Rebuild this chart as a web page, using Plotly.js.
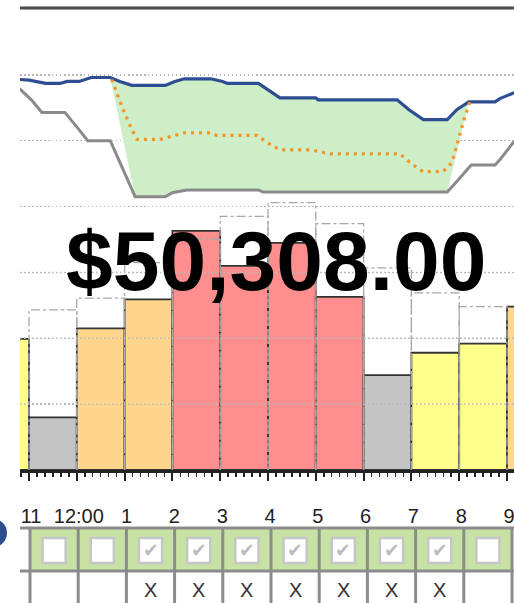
<!DOCTYPE html>
<html>
<head>
<meta charset="utf-8">
<script src="https://cdn.plot.ly/plotly-3.0.1.min.js"></script>
<style>html,body{margin:0;padding:0;background:#fff;}#chart{width:514px;height:603px;}</style>
</head>
<body>
<div id="chart"></div>
<script>
// ---------- DATA ----------
// hourly usage bars (start hour of each bar)
const barHours = [10, 11, 12, 13, 14, 15, 16, 17, 18, 19, 20, 21];
const usage    = [1.99, 0.80, 2.15, 2.59, 3.63, 3.10, 3.45, 2.63, 1.44, 1.78, 1.92, 2.48];
const tiers    = ['mid', 'off', 'shoulder', 'shoulder', 'peak', 'peak', 'peak', 'peak', 'off', 'mid', 'mid', 'shoulder'];
const baseline = [null, 2.43, 2.61, 3.15, 3.50, 3.85, 4.06, 3.74, 3.07, 2.69, 2.48, null];

// upper line series (time in hours)
const blueT = [10.8, 11.0, 11.35, 11.65, 11.8, 12.05, 12.3, 12.7, 12.9, 13.15, 13.85, 14.05, 14.25, 14.8, 15.05, 15.15, 15.8, 16.0, 16.25, 17.0, 17.05, 18.7, 18.95, 19.25, 19.75, 19.95, 20.2, 20.75, 20.85, 21.15];
const blueV = [5.93, 5.92, 5.87, 5.87, 5.90, 5.90, 5.96, 5.96, 5.90, 5.84, 5.84, 5.90, 5.94, 5.94, 5.90, 5.87, 5.87, 5.77, 5.65, 5.65, 5.62, 5.62, 5.47, 5.32, 5.32, 5.47, 5.59, 5.59, 5.64, 5.73];
const grayT = [10.8, 11.05, 11.27, 11.75, 12.0, 12.23, 12.7, 12.95, 13.22, 13.85, 14.0, 14.3, 15.8, 15.9, 19.75, 19.95, 20.25, 20.75, 20.85, 21.15];
const grayV = [5.79, 5.62, 5.43, 5.43, 5.21, 5.0, 5.0, 4.6, 4.15, 4.15, 4.21, 4.25, 4.25, 4.22, 4.22, 4.38, 4.63, 4.63, 4.71, 4.99];
const orangeT = [12.73, 12.97, 13.15, 13.26, 13.74, 13.95, 14.25, 14.8, 14.93, 15.77, 15.98, 16.25, 16.9, 17.1, 17.3, 18.76, 18.97, 19.24, 19.66, 19.85, 19.98, 20.12, 20.23];
const orangeV = [5.93, 5.47, 5.17, 5.02, 5.02, 5.06, 5.12, 5.12, 5.08, 5.08, 4.97, 4.86, 4.86, 4.83, 4.80, 4.80, 4.67, 4.53, 4.53, 4.67, 5.02, 5.37, 5.60];
const fillWindowTop = [12.7, 20.2];
const fillWindowBottom = [13.22, 19.75];

// x-axis labels
const tickHours  = [11, 12, 13, 14, 15, 16, 17, 18, 19, 20, 21];
const tickLabels = ['11', '12:00', '1', '2', '3', '4', '5', '6', '7', '8', '9'];

// schedule table below the chart
const tableHours = [11, 12, 13, 14, 15, 16, 17, 18, 19, 20];
const checked    = [false, false, true, true, true, true, true, true, true, false];
const marked     = [false, false, true, true, true, true, true, true, true, false];

const totalText = '$50,308.00';

// ---------- STYLE ----------
const tierColors = {off: '#c4c4c4', mid: '#ffff8c', shoulder: '#ffd68c', peak: '#ff8f8f'};
const W = 514, H = 603, ML = 20, MR = 0, MT = 9, MB = 133;
const plotW = W - ML - MR, plotH = H - MT - MB;
const px2paperX = p => (p - ML) / plotW;
const py2paperY = p => (H - MB - p) / plotH;
const gridStyle = {color: '#b8b8b8', width: 1.5, dash: '1.5px,2.5px'};

// ---------- TRACES ----------
const barTrace = {
  type: 'bar', x: barHours.map(h => h + 0.5), y: usage, width: 1,
  marker: {color: tiers.map(t => tierColors[t]), line: {color: '#333333', width: 1.8}},
  hoverinfo: 'skip', showlegend: false
};

const ox = [], oy = [];
baseline.forEach((v, i) => {
  if (v === null) return;
  const x0 = barHours[i], x1 = barHours[i] + 1;
  ox.push(x0, x0, x1, x1, null); oy.push(0, v, v, 0, null);
});
const outlineTrace = {
  type: 'scatter', mode: 'lines', x: ox, y: oy, connectgaps: false,
  line: {color: '#a8a8a8', width: 1.3, dash: 'dashdot'}, hoverinfo: 'skip', showlegend: false
};

const topIdx = blueT.map((t, i) => i).filter(i => blueT[i] >= fillWindowTop[0] && blueT[i] <= fillWindowTop[1]);
const botIdx = grayT.map((t, i) => i).filter(i => grayT[i] >= fillWindowBottom[0] && grayT[i] <= fillWindowBottom[1]).reverse();
const fillTrace = {
  type: 'scatter', mode: 'lines',
  x: topIdx.map(i => blueT[i]).concat(botIdx.map(i => grayT[i])),
  y: topIdx.map(i => blueV[i]).concat(botIdx.map(i => grayV[i])),
  fill: 'toself', fillcolor: 'rgb(206,238,199)', line: {width: 0}, hoverinfo: 'skip', showlegend: false
};
const grayTrace = {type: 'scatter', mode: 'lines', x: grayT, y: grayV, line: {color: '#8a8a8a', width: 3}, hoverinfo: 'skip', showlegend: false};
const blueTrace = {type: 'scatter', mode: 'lines', x: blueT, y: blueV, line: {color: '#2d4e93', width: 3.2}, hoverinfo: 'skip', showlegend: false};
const orangeTrace = {type: 'scatter', mode: 'lines', x: orangeT, y: orangeV, line: {color: '#f59323', width: 3.2, dash: '3px,5px'}, hoverinfo: 'skip', showlegend: false};
const tableAxisTrace = {type: 'scatter', x: [], y: [], xaxis: 'x2', yaxis: 'y', hoverinfo: 'skip', showlegend: false};

// ---------- SHAPES / ANNOTATIONS ----------
const shapes = [];
const annotations = [];
// grid lines over bars
[1, 2, 3].forEach(v => shapes.push({type: 'line', xref: 'paper', yref: 'y', x0: 0, x1: 1, y0: v, y1: v, line: gridStyle, layer: 'above'}));
// top border line
shapes.push({type: 'line', xref: 'paper', yref: 'paper', x0: 0, x1: 1, y0: py2paperY(8), y1: py2paperY(8), line: {color: '#4a4a4a', width: 3}, layer: 'above'});

// table
const rowTop = 528, rowMid = 571, rowBot = 620;
tableHours.forEach((h, i) => {
  shapes.push({type: 'rect', xref: 'x2', yref: 'paper', x0: h, x1: h + 1, y0: py2paperY(rowMid), y1: py2paperY(rowTop), fillcolor: '#c8e2a6', line: {width: 0}, layer: 'above'});
  shapes.push({type: 'rect', xref: 'x2', yref: 'paper', x0: h + 0.26, x1: h + 0.74, y0: py2paperY(563), y1: py2paperY(538), fillcolor: '#ffffff', line: {color: '#c6c6c6', width: 2.5}, layer: 'above'});
  if (checked[i]) annotations.push({xref: 'x2', yref: 'paper', x: h + 0.5, y: py2paperY(550), xanchor: 'center', yanchor: 'middle', text: '✔', showarrow: false, font: {family: 'DejaVu Sans', size: 19, color: '#bdbdbd'}});
  if (marked[i]) annotations.push({xref: 'x2', yref: 'paper', x: h + 0.5, y: py2paperY(590), xanchor: 'center', yanchor: 'middle', text: 'X', showarrow: false, borderpad: 0, font: {family: 'Liberation Sans, Arial', size: 20, color: '#333'}});
});
[rowTop, rowMid].forEach(p => shapes.push({type: 'line', xref: 'paper', yref: 'paper', x0: 0, x1: 1, y0: py2paperY(p), y1: py2paperY(p), line: {color: '#8c8c8c', width: 3}, layer: 'above'}));
tableHours.concat([tableHours[tableHours.length - 1] + 1]).forEach(h => shapes.push({type: 'line', xref: 'x2', yref: 'paper', x0: h, x1: h, y0: py2paperY(rowTop), y1: py2paperY(rowBot), line: {color: '#8c8c8c', width: 3}, layer: 'above'}));
// blue partial circle on left edge
shapes.push({type: 'circle', xref: 'paper', yref: 'paper', x0: px2paperX(-21), x1: px2paperX(7), y0: py2paperY(547), y1: py2paperY(519), fillcolor: '#2e4d8c', line: {width: 0}, layer: 'above'});

annotations.push({xref: 'paper', yref: 'paper', x: px2paperX(276), y: py2paperY(261), xanchor: 'center', yanchor: 'middle', text: '<b>' + totalText + '</b>', showarrow: false, font: {family: 'Liberation Sans, Arial', size: 84, color: '#000'}});

const layout = {
  width: W, height: H, margin: {l: ML, r: MR, t: MT, b: MB, pad: 0},
  paper_bgcolor: '#fff', plot_bgcolor: '#fff', showlegend: false, bargap: 0,
  xaxis: {
    range: [10.8117, 21.1464], tickmode: 'array', tickvals: tickHours, ticktext: tickLabels,
    ticks: 'outside', ticklen: 8, tickwidth: 2, tickcolor: '#222',
    showline: true, linecolor: '#222', linewidth: 2.5, showgrid: false, zeroline: false,
    tickfont: {family: 'Liberation Sans, Arial', size: 20, color: '#222'},
    ticklabelstandoff: 18, ticklabelshift: 2, ticklabeloverflow: 'allow',
    minor: {tickmode: 'linear', tick0: 11, dtick: 1 / 6, ticks: 'outside', ticklen: 4, tickwidth: 1.5, tickcolor: '#222', showgrid: false}
  },
  xaxis2: {range: [10.7925, 21.0415], overlaying: 'x', anchor: 'y', visible: false},
  yaxis: {range: [0, 7], dtick: 1, showgrid: true, gridcolor: gridStyle.color, gridwidth: gridStyle.width, griddash: gridStyle.dash, showticklabels: false, ticks: '', zeroline: false, showline: false},
  shapes: shapes, annotations: annotations
};

Plotly.newPlot('chart', [barTrace, outlineTrace, fillTrace, grayTrace, blueTrace, orangeTrace, tableAxisTrace], layout, {staticPlot: true, displayModeBar: false});
</script>
</body>
</html>
